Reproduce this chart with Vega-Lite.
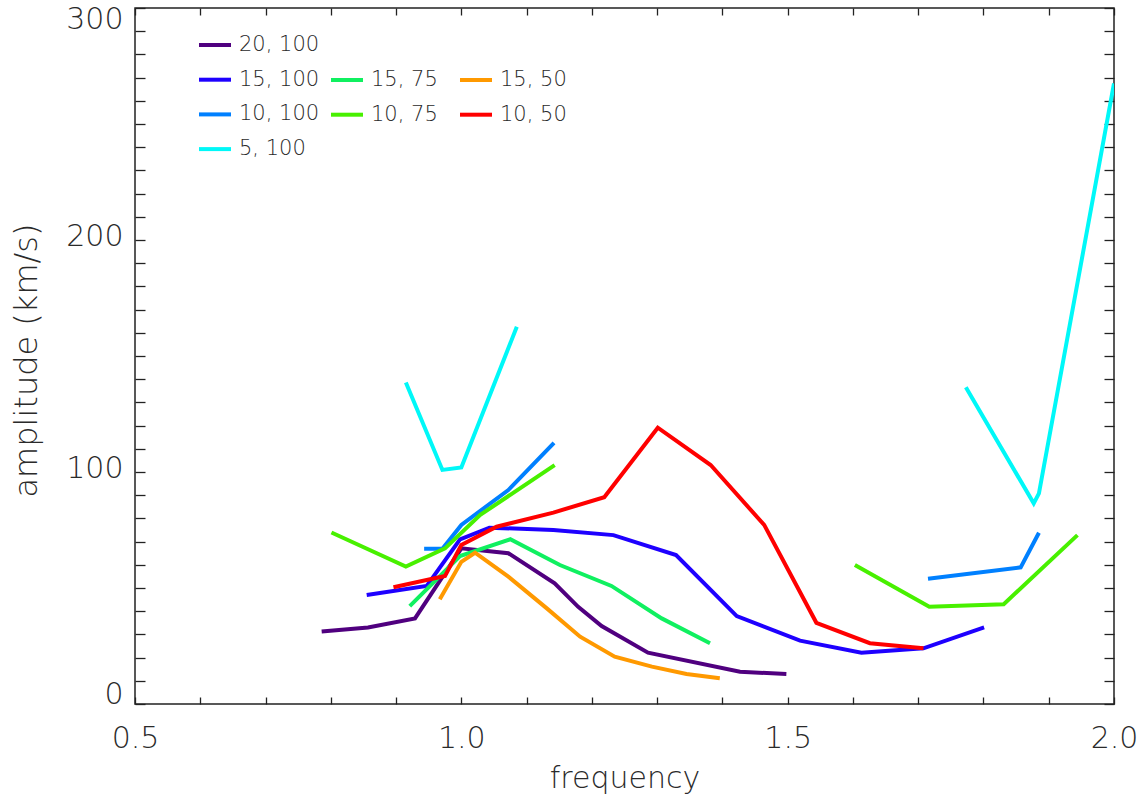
{
  "$schema": "https://vega.github.io/schema/vega-lite/v6.json",
  "width": 979,
  "height": 696,
  "autosize": "none",
  "padding": {"left": 135, "top": 8, "right": 34, "bottom": 99},
  "background": "white",
  "config": {
    "view": {"stroke": "#222", "strokeWidth": 1.5},
    "axis": {
      "labelFont": "DejaVu Sans", "labelFontWeight": 200, "labelFontSize": 30, "labelColor": "#2a2a2a",
      "titleFont": "DejaVu Sans", "titleFontWeight": 200, "titleFontSize": 30, "titleColor": "#2a2a2a",
      "tickColor": "#222", "tickWidth": 1.3, "domain": false, "grid": false,
      "labelOverlap": false, "labelFlush": false, "labelBound": false
    },
    "legend": {
      "labelFont": "DejaVu Sans", "labelFontWeight": 200, "labelFontSize": 21, "labelColor": "#2a2a2a",
      "symbolType": "stroke", "symbolSize": 1024, "symbolStrokeWidth": 4, "labelOffset": 6,
      "rowPadding": 6.7, "padding": 0, "title": null
    }
  },
  "datasets": {
    "g100": [
      {"series": "20, 100", "seg": "a", "f": 0.786, "a": 31.2},
      {"series": "20, 100", "seg": "a", "f": 0.857, "a": 33.0},
      {"series": "20, 100", "seg": "a", "f": 0.929, "a": 36.9},
      {"series": "20, 100", "seg": "a", "f": 1.0, "a": 67.1},
      {"series": "20, 100", "seg": "a", "f": 1.072, "a": 65.0},
      {"series": "20, 100", "seg": "a", "f": 1.143, "a": 52.0},
      {"series": "20, 100", "seg": "a", "f": 1.179, "a": 41.9},
      {"series": "20, 100", "seg": "a", "f": 1.215, "a": 33.6},
      {"series": "20, 100", "seg": "a", "f": 1.286, "a": 22.1},
      {"series": "20, 100", "seg": "a", "f": 1.427, "a": 13.9},
      {"series": "20, 100", "seg": "a", "f": 1.498, "a": 12.9},
      {"series": "15, 100", "seg": "a", "f": 0.855, "a": 47.0},
      {"series": "15, 100", "seg": "a", "f": 0.947, "a": 50.9},
      {"series": "15, 100", "seg": "a", "f": 0.998, "a": 71.0},
      {"series": "15, 100", "seg": "a", "f": 1.043, "a": 76.0},
      {"series": "15, 100", "seg": "a", "f": 1.141, "a": 75.0},
      {"series": "15, 100", "seg": "a", "f": 1.233, "a": 72.8},
      {"series": "15, 100", "seg": "a", "f": 1.329, "a": 64.2},
      {"series": "15, 100", "seg": "a", "f": 1.422, "a": 37.9},
      {"series": "15, 100", "seg": "a", "f": 1.519, "a": 27.3},
      {"series": "15, 100", "seg": "a", "f": 1.613, "a": 22.1},
      {"series": "15, 100", "seg": "a", "f": 1.708, "a": 24.0},
      {"series": "15, 100", "seg": "a", "f": 1.801, "a": 33.0},
      {"series": "10, 100", "seg": "a", "f": 0.943, "a": 66.9},
      {"series": "10, 100", "seg": "a", "f": 0.971, "a": 66.9},
      {"series": "10, 100", "seg": "a", "f": 1.0, "a": 77.2},
      {"series": "10, 100", "seg": "a", "f": 1.072, "a": 92.2},
      {"series": "10, 100", "seg": "a", "f": 1.142, "a": 112.6},
      {"series": "10, 100", "seg": "b", "f": 1.715, "a": 54.0},
      {"series": "10, 100", "seg": "b", "f": 1.857, "a": 58.9},
      {"series": "10, 100", "seg": "b", "f": 1.885, "a": 73.8},
      {"series": "5, 100", "seg": "a", "f": 0.915, "a": 138.6},
      {"series": "5, 100", "seg": "a", "f": 0.971, "a": 100.9},
      {"series": "5, 100", "seg": "a", "f": 1.0, "a": 102.0},
      {"series": "5, 100", "seg": "a", "f": 1.085, "a": 162.6},
      {"series": "5, 100", "seg": "b", "f": 1.773, "a": 136.5},
      {"series": "5, 100", "seg": "b", "f": 1.877, "a": 86.5},
      {"series": "5, 100", "seg": "b", "f": 1.885, "a": 90.8},
      {"series": "5, 100", "seg": "b", "f": 2.0, "a": 267.5}
    ],
    "g75": [
      {"series": "15, 75", "seg": "a", "f": 0.921, "a": 42.2},
      {"series": "15, 75", "seg": "a", "f": 0.998, "a": 63.8},
      {"series": "15, 75", "seg": "a", "f": 1.075, "a": 71.0},
      {"series": "15, 75", "seg": "a", "f": 1.151, "a": 59.9},
      {"series": "15, 75", "seg": "a", "f": 1.23, "a": 50.9},
      {"series": "15, 75", "seg": "a", "f": 1.307, "a": 36.9},
      {"series": "15, 75", "seg": "a", "f": 1.381, "a": 26.2},
      {"series": "10, 75", "seg": "a", "f": 0.801, "a": 73.9},
      {"series": "10, 75", "seg": "a", "f": 0.915, "a": 59.2},
      {"series": "10, 75", "seg": "a", "f": 0.975, "a": 67.1},
      {"series": "10, 75", "seg": "a", "f": 1.029, "a": 81.5},
      {"series": "10, 75", "seg": "a", "f": 1.143, "a": 103.0},
      {"series": "10, 75", "seg": "b", "f": 1.603, "a": 59.9},
      {"series": "10, 75", "seg": "b", "f": 1.717, "a": 41.9},
      {"series": "10, 75", "seg": "b", "f": 1.831, "a": 43.0},
      {"series": "10, 75", "seg": "b", "f": 1.944, "a": 72.8}
    ],
    "g50": [
      {"series": "15, 50", "seg": "a", "f": 0.967, "a": 45.1},
      {"series": "15, 50", "seg": "a", "f": 1.0, "a": 61.3},
      {"series": "15, 50", "seg": "a", "f": 1.021, "a": 65.2},
      {"series": "15, 50", "seg": "a", "f": 1.072, "a": 54.9},
      {"series": "15, 50", "seg": "a", "f": 1.131, "a": 41.2},
      {"series": "15, 50", "seg": "a", "f": 1.182, "a": 29.0},
      {"series": "15, 50", "seg": "a", "f": 1.235, "a": 20.4},
      {"series": "15, 50", "seg": "a", "f": 1.292, "a": 16.1},
      {"series": "15, 50", "seg": "a", "f": 1.345, "a": 12.9},
      {"series": "15, 50", "seg": "a", "f": 1.396, "a": 11.1},
      {"series": "10, 50", "seg": "a", "f": 0.896, "a": 50.3},
      {"series": "10, 50", "seg": "a", "f": 0.975, "a": 55.2},
      {"series": "10, 50", "seg": "a", "f": 1.0, "a": 68.5},
      {"series": "10, 50", "seg": "a", "f": 1.054, "a": 76.4},
      {"series": "10, 50", "seg": "a", "f": 1.141, "a": 82.5},
      {"series": "10, 50", "seg": "a", "f": 1.219, "a": 89.1},
      {"series": "10, 50", "seg": "a", "f": 1.301, "a": 119.1},
      {"series": "10, 50", "seg": "a", "f": 1.382, "a": 103.0},
      {"series": "10, 50", "seg": "a", "f": 1.464, "a": 77.2},
      {"series": "10, 50", "seg": "a", "f": 1.544, "a": 35.0},
      {"series": "10, 50", "seg": "a", "f": 1.626, "a": 26.2},
      {"series": "10, 50", "seg": "a", "f": 1.708, "a": 24.0}
    ]
  },
  "resolve": {"scale": {"color": "independent"}, "axis": {"x": "independent", "y": "independent"}},
  "layer": [
    {
      "data": {"name": "g100"},
      "mark": {"type": "line", "strokeWidth": 4, "clip": true},
      "encoding": {
        "x": {"field": "f", "type": "quantitative",
          "scale": {"domain": [0.5, 2.0], "nice": false, "zero": false},
          "axis": {"orient": "bottom",
            "values": [0.5, 0.6, 0.7, 0.8, 0.9, 1.0, 1.1, 1.2, 1.3, 1.4, 1.5, 1.6, 1.7, 1.8, 1.9, 2.0],
            "labelExpr": "round(datum.value*10) % 5 == 0 ? format(datum.value, '.1f') : ''",
            "tickSize": -7, "labelPadding": 26, "title": "frequency", "titlePadding": 10,
            "encode": {"ticks": {"update": {"y2": {"signal": "round(datum.value*10) % 5 == 0 ? -14 : -7"}}}}}},
        "y": {"field": "a", "type": "quantitative",
          "scale": {"domain": [0, 300], "nice": false},
          "axis": {"orient": "left",
            "values": [0, 10, 20, 30, 40, 50, 60, 70, 80, 90, 100, 110, 120, 130, 140, 150, 160, 170, 180, 190, 200, 210, 220, 230, 240, 250, 260, 270, 280, 290, 300],
            "labelExpr": "datum.value % 100 == 0 ? datum.label : ''",
            "labelOffset": {"condition": [{"test": "datum.value == 0", "value": -10}, {"test": "datum.value == 300", "value": 11}], "value": -4},
            "tickSize": -10, "labelPadding": 22, "title": "amplitude (km/s)", "titlePadding": 22, "titleFontSize": 32, "titleY": 352,
            "encode": {
              "ticks": {"update": {"x2": {"signal": "datum.value % 100 == 0 ? 19 : 10"}}}
            }}},
        "color": {"field": "series", "type": "nominal",
          "scale": {"domain": ["20, 100", "15, 100", "10, 100", "5, 100"], "range": ["#50007F", "#1E00FF", "#0080FF", "#00F8F8"]},
          "legend": {"orient": "none", "legendX": 62, "legendY": 19}},
        "detail": {"field": "seg", "type": "nominal"}
      }
    },
    {
      "data": {"name": "g75"},
      "mark": {"type": "line", "strokeWidth": 4, "clip": true},
      "encoding": {
        "x": {"field": "f", "type": "quantitative", "axis": null},
        "y": {"field": "a", "type": "quantitative", "axis": null},
        "color": {"field": "series", "type": "nominal",
          "scale": {"domain": ["15, 75", "10, 75"], "range": ["#10F060", "#48F000"]},
          "legend": {"orient": "none", "legendX": 194, "legendY": 54}},
        "detail": {"field": "seg", "type": "nominal"}
      }
    },
    {
      "data": {"name": "g50"},
      "mark": {"type": "line", "strokeWidth": 4, "clip": true},
      "encoding": {
        "x": {"field": "f", "type": "quantitative", "axis": null},
        "y": {"field": "a", "type": "quantitative", "axis": null},
        "color": {"field": "series", "type": "nominal",
          "scale": {"domain": ["15, 50", "10, 50"], "range": ["#FF9900", "#FF0000"]},
          "legend": {"orient": "none", "legendX": 323, "legendY": 54}},
        "detail": {"field": "seg", "type": "nominal"}
      }
    },
    {
      "data": {"name": "g100"},
      "mark": {"type": "line", "strokeOpacity": 0, "clip": true},
      "encoding": {
        "x": {"field": "f", "type": "quantitative",
          "axis": {"orient": "top",
            "values": [0.5, 0.6, 0.7, 0.8, 0.9, 1.0, 1.1, 1.2, 1.3, 1.4, 1.5, 1.6, 1.7, 1.8, 1.9, 2.0],
            "labels": false, "title": null, "tickSize": -7,
            "encode": {"ticks": {"update": {"y2": {"signal": "round(datum.value*10) % 5 == 0 ? 14 : 7"}}}}}},
        "y": {"field": "a", "type": "quantitative",
          "axis": {"orient": "right",
            "values": [0, 10, 20, 30, 40, 50, 60, 70, 80, 90, 100, 110, 120, 130, 140, 150, 160, 170, 180, 190, 200, 210, 220, 230, 240, 250, 260, 270, 280, 290, 300],
            "labels": false, "title": null, "tickSize": -10,
            "encode": {"ticks": {"update": {"x2": {"signal": "datum.value % 100 == 0 ? -19 : -10"}}}}}},
        "detail": {"field": "seg", "type": "nominal"}
      }
    }
  ]
}
